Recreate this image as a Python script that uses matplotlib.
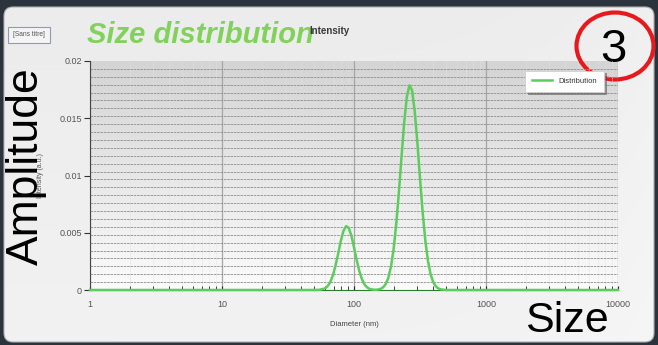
import numpy as np
import matplotlib
matplotlib.use('Agg')
import matplotlib.pyplot as plt
from matplotlib.patches import FancyBboxPatch, Ellipse, Rectangle
from matplotlib.colors import LinearSegmentedColormap
from matplotlib.ticker import FixedLocator, NullFormatter

plt.rcParams['font.family'] = ['Liberation Sans', 'DejaVu Sans']

# size distribution (intensity weighted), diameter in nm
diameter_nm = [1.0, 50.1, 55.0, 60.3, 63.1, 66.1, 69.2, 72.4, 75.9, 79.4, 83.2,
               87.1, 91.2, 95.5, 100.0, 104.7, 109.6, 114.8, 120.2, 125.9, 131.8,
               138.0, 144.5, 151.4, 158.5, 166.0, 173.8, 182.0, 190.5, 199.5,
               208.9, 218.8, 229.1, 239.9, 251.2, 263.0, 275.4, 288.4, 302.0,
               316.2, 331.1, 346.7, 363.1, 380.2, 398.1, 416.9, 436.5, 457.1,
               501.2, 10000.0]
intensity = [0.0, 0.0, 0.00002, 0.00014, 0.00033, 0.00069, 0.00127, 0.00212,
             0.00317, 0.00427, 0.00515, 0.00558, 0.00543, 0.00475, 0.00373,
             0.00263, 0.00167, 0.00095, 0.00048, 0.00022, 0.00009, 0.00004,
             0.00002, 0.00004, 0.00009, 0.00023, 0.00051, 0.00106, 0.00203,
             0.00356, 0.00575, 0.00853, 0.01164, 0.01461, 0.01685, 0.01787,
             0.01743, 0.01562, 0.01288, 0.00976, 0.00680, 0.00436, 0.00257,
             0.00139, 0.00069, 0.00032, 0.00013, 0.00005, 0.0, 0.0]

x_ticks = [1, 10, 100, 1000, 10000]
x_tick_labels = ['1', '10', '100', '1000', '10000']
y_ticks = [0, 0.005, 0.01, 0.015, 0.02]
y_tick_labels = ['0', '0.005', '0.01', '0.015', '0.02']

W, H = 658, 345
fig = plt.figure(figsize=(W / 100, H / 100), dpi=100)
fig.patch.set_facecolor('#2b333c')

# background layer in pixel coordinates
bg = fig.add_axes([0, 0, 1, 1])
bg.set_xlim(0, W)
bg.set_ylim(H, 0)
bg.axis('off')

panel = FancyBboxPatch((4, 7), 650, 335, boxstyle='round,pad=0,rounding_size=9',
                       facecolor='none', edgecolor='#b0b0b0', lw=0.8, zorder=2)
bg.add_patch(panel)
vgrad = np.linspace(0, 1, 256).reshape(-1, 1)
hgrad = np.linspace(0, 1, 256).reshape(1, -1)
panel_img = bg.imshow(vgrad * 0.6 + hgrad ** 6 * 0.4,
                      cmap=LinearSegmentedColormap.from_list('panel', ['#ececec', '#f6f6f6']),
                      extent=[4, 654, 342, 7], aspect='auto', zorder=1)
panel_img.set_clip_path(panel)

# plot area shading: darker at the top, almost white at the bottom
bg.imshow(vgrad, cmap=LinearSegmentedColormap.from_list('plot', ['#d4d4d4', '#fbfbfb']),
          extent=[90, 618, 290, 61], aspect='auto', zorder=3)

ax = fig.add_axes([90 / W, (H - 290) / H, 528 / W, 229 / H])
ax.set_facecolor('none')
ax.set_xscale('log')
ax.set_xlim(1, 10000)
ax.set_ylim(0, 0.02)

ax.plot(diameter_nm, intensity, color='#5ccd5c', lw=1.8, label='Distribution',
        zorder=5, clip_on=False, solid_joinstyle='round')

ax.set_xticks(x_ticks)
ax.set_xticklabels(x_tick_labels)
ax.set_yticks(y_ticks)
ax.set_yticklabels(y_tick_labels)
ax.yaxis.set_minor_locator(FixedLocator(np.linspace(0, 0.02, 30)))
ax.yaxis.set_minor_formatter(NullFormatter())

ax.grid(which='major', axis='x', color='#a6a6a6', lw=0.9)
ax.grid(which='minor', axis='x', color='#e2e2e2', lw=0.6, ls=(0, (1, 1)))
ax.grid(which='minor', axis='y', color='#8e8e8e', lw=0.6, ls=(0, (3, 1)))
ax.set_axisbelow(True)

ax.tick_params(axis='x', which='both', direction='in', length=3, color='#222222',
               labelsize=6.5, labelcolor='#555555', pad=7)
ax.tick_params(axis='y', which='major', direction='out', length=4, color='#333333',
               labelsize=6.5, labelcolor='#555555', pad=2)
ax.tick_params(axis='y', which='minor', length=0)

for side in ['top', 'right']:
    ax.spines[side].set_visible(False)
ax.spines['left'].set_color('#444444')
ax.spines['left'].set_linewidth(0.8)
ax.spines['bottom'].set_color('#2e7d2e')

leg = ax.legend(loc='upper right', bbox_to_anchor=(0.98, 0.975), fontsize=5.5,
                frameon=True, fancybox=False, shadow=True, handlelength=2.6,
                borderpad=0.9, labelcolor='#333333')
leg.get_frame().set_edgecolor('#d0d0d0')
leg.get_frame().set_linewidth(0.6)

# axis captions
bg.text(354, 324, 'Diameter (nm)', fontsize=5.5, color='#444444', ha='center', va='center', zorder=6)
bg.text(40, 176, 'Intensity (a.u.)', fontsize=5, color='#555555', rotation=90,
        ha='center', va='center', zorder=6)

# header
bg.text(87, 35, 'Size distribution', fontsize=21, fontweight='bold', style='italic',
        color='#80d25a', ha='left', va='center', zorder=6)
bg.text(309, 31, 'Intensity', fontsize=7, fontweight='bold', color='#3a3a3a',
        ha='left', va='center', zorder=7)

bg.add_patch(Rectangle((8, 27), 42, 16, facecolor='#f4f4f4', edgecolor='#8c9cb2', lw=0.8, zorder=6))
bg.text(29, 35, '[Sans titre]', fontsize=4.8, color='#555555', ha='center', va='center', zorder=7)

# annotations
bg.add_patch(Ellipse((615, 46), 77, 67, fill=False, edgecolor='#e8191d', lw=3, zorder=8))
bg.text(613, 50, '3', fontsize=34, color='black', ha='center', va='center', zorder=9)
bg.text(26, 166, 'Amplitude', fontsize=32, rotation=90, color='black',
        ha='center', va='center', zorder=9)
bg.text(567, 321, 'Size', fontsize=31, color='black', ha='center', va='center', zorder=9)

fig.savefig('out.png', dpi=100, facecolor=fig.get_facecolor())
